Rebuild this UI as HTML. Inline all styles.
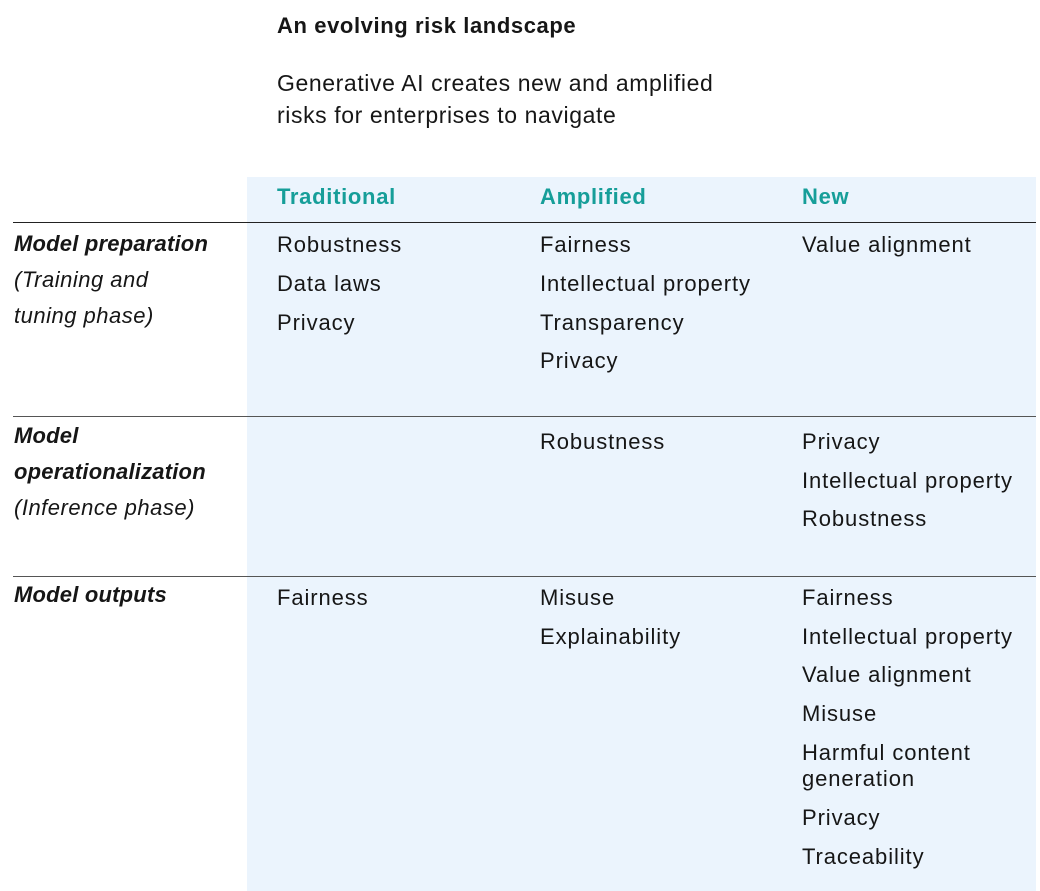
<!DOCTYPE html>
<html><head><meta charset="utf-8"><style>
body{margin:0;width:1040px;height:891px;background:#fff;position:relative;overflow:hidden;font-family:"Liberation Sans",sans-serif;color:#161616}
.t{position:absolute;font-size:22px;line-height:26px;white-space:nowrap;letter-spacing:0.9px}
.h{color:#169e99;font-weight:bold;letter-spacing:0.7px}
.i{font-style:italic}
.b{font-weight:bold}
.ln{position:absolute;left:13px;width:1023px;height:1px;background:#222}
</style></head><body>
<div style="position:absolute;left:247px;top:177px;width:789px;height:714px;background:#ebf4fd"></div>
<div class="ln" style="top:222px"></div>
<div class="ln" style="top:416px;background:#555"></div>
<div class="ln" style="top:576px;background:#555"></div>

<div class="t b" style="left:277px;top:13px;letter-spacing:0.6px">An evolving risk landscape</div>
<div class="t" style="left:277px;top:67px;font-size:23px;line-height:32px;letter-spacing:0.6px">Generative AI creates new and amplified<br>risks for enterprises to navigate</div>

<div class="t h" style="left:277px;top:184px">Traditional</div>
<div class="t h" style="left:540px;top:184px">Amplified</div>
<div class="t h" style="left:802px;top:184px">New</div>

<div class="t i b" style="left:14px;top:231px;letter-spacing:0.2px">Model preparation</div>
<div class="t i" style="left:14px;top:267px;letter-spacing:0.5px">(Training and</div>
<div class="t i" style="left:14px;top:303px;letter-spacing:0.5px">tuning phase)</div>
<div class="t i b" style="left:14px;top:423px;letter-spacing:0.2px">Model</div>
<div class="t i b" style="left:14px;top:459px;letter-spacing:0.2px">operationalization</div>
<div class="t i" style="left:14px;top:495px;letter-spacing:0.5px">(Inference phase)</div>
<div class="t i b" style="left:14px;top:582px;letter-spacing:0.2px">Model outputs</div>

<div class="t" style="left:277px;top:232px">Robustness</div>
<div class="t" style="left:277px;top:271px">Data laws</div>
<div class="t" style="left:277px;top:310px">Privacy</div>
<div class="t" style="left:540px;top:232px">Fairness</div>
<div class="t" style="left:540px;top:271px">Intellectual property</div>
<div class="t" style="left:540px;top:310px">Transparency</div>
<div class="t" style="left:540px;top:348px">Privacy</div>
<div class="t" style="left:802px;top:232px">Value alignment</div>

<div class="t" style="left:540px;top:429px">Robustness</div>
<div class="t" style="left:802px;top:429px">Privacy</div>
<div class="t" style="left:802px;top:468px">Intellectual property</div>
<div class="t" style="left:802px;top:506px">Robustness</div>

<div class="t" style="left:277px;top:585px">Fairness</div>
<div class="t" style="left:540px;top:585px">Misuse</div>
<div class="t" style="left:540px;top:624px">Explainability</div>
<div class="t" style="left:802px;top:585px">Fairness</div>
<div class="t" style="left:802px;top:624px">Intellectual property</div>
<div class="t" style="left:802px;top:662px">Value alignment</div>
<div class="t" style="left:802px;top:701px">Misuse</div>
<div class="t" style="left:802px;top:740px">Harmful content</div>
<div class="t" style="left:802px;top:766px">generation</div>
<div class="t" style="left:802px;top:805px">Privacy</div>
<div class="t" style="left:802px;top:844px">Traceability</div>
</body></html>
